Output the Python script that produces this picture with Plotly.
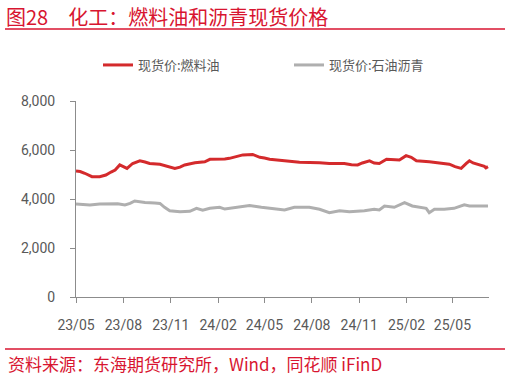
import plotly.graph_objects as go

# ---- data ----
fuel_dates = ["2023-05-01","2023-05-09","2023-05-18","2023-06-01","2023-06-16","2023-06-28","2023-07-08","2023-07-16",
              "2023-07-25","2023-08-02","2023-08-08","2023-08-19","2023-09-02","2023-09-12","2023-09-21","2023-10-11",
              "2023-10-30","2023-11-09","2023-11-19","2023-11-28","2023-12-18","2024-01-06","2024-01-16","2024-01-31",
              "2024-02-14","2024-02-23","2024-03-08","2024-03-20","2024-04-08","2024-04-22","2024-05-01","2024-05-11",
              "2024-06-09","2024-07-08","2024-08-16","2024-09-04","2024-10-03","2024-10-17","2024-10-29","2024-11-07",
              "2024-11-21","2024-11-30","2024-12-10","2024-12-24","2025-01-18","2025-01-31","2025-02-10","2025-02-20",
              "2025-03-17","2025-04-05","2025-04-25","2025-05-06","2025-05-18","2025-05-28","2025-06-03","2025-06-10",
              "2025-06-22","2025-07-02","2025-07-05","2025-07-09"]
fuel_values = [5140,5120,5050,4910,4910,4980,5100,5180,
               5390,5300,5250,5450,5560,5510,5450,5420,
               5320,5250,5300,5390,5480,5520,5620,5620,
               5630,5660,5720,5800,5820,5700,5670,5620,
               5560,5500,5480,5450,5450,5400,5390,5470,
               5560,5470,5450,5620,5590,5770,5700,5560,
               5520,5470,5420,5320,5250,5450,5560,5470,
               5400,5330,5270,5320]

asphalt_dates = ["2023-05-01","2023-05-28","2023-06-16","2023-07-06","2023-07-21","2023-08-04","2023-08-14","2023-08-23",
                 "2023-09-12","2023-10-01","2023-10-11","2023-10-20","2023-10-30","2023-11-19","2023-12-08","2023-12-21",
                 "2024-01-02","2024-01-16","2024-02-04","2024-02-14","2024-03-14","2024-04-02","2024-04-25","2024-05-21",
                 "2024-06-09","2024-06-28","2024-07-27","2024-08-16","2024-09-04","2024-09-24","2024-10-13","2024-11-11",
                 "2024-11-30","2024-12-10","2024-12-20","2025-01-08","2025-01-28","2025-02-12","2025-02-26","2025-03-11",
                 "2025-03-17","2025-03-27","2025-04-15","2025-05-04","2025-05-24","2025-06-03","2025-06-22","2025-07-09"]
asphalt_values = [3800,3760,3800,3820,3810,3760,3820,3920,
                  3860,3840,3820,3660,3520,3480,3500,3620,
                  3540,3620,3660,3590,3660,3730,3660,3580,
                  3550,3660,3660,3580,3440,3520,3480,3520,
                  3580,3550,3715,3660,3850,3715,3660,3620,
                  3440,3580,3580,3620,3760,3715,3715,3715]

tick_dates = ["2023-05-01","2023-08-01","2023-11-01","2024-02-01","2024-05-01",
              "2024-08-01","2024-11-01","2025-02-01","2025-05-01"]
tick_labels = ["23/05","23/08","23/11","24/02","24/05","24/08","24/11","25/02","25/05"]
y_ticks = [0, 2000, 4000, 6000, 8000]
y_labels = ["0", "2,000", "4,000", "6,000", "8,000"]

series_names = ["现货价:燃料油", "现货价:石油沥青"]
title_text = "图28　化工：燃料油和沥青现货价格"
source_text = "资料来源：东海期货研究所，Wind，同花顺 iFinD"

RED = "#D42A2C"
GRAY = "#AFAFAF"
TITLE_RED = "#D81530"
AXIS = "#8C8C8C"
TEXT = "#595959"
NUM_FONT = "Roboto, sans-serif"
CJK_FONT = "Noto Sans CJK SC, sans-serif"

fig = go.Figure()
fig.add_trace(go.Scatter(x=fuel_dates, y=fuel_values, mode="lines", name=series_names[0],
                         line=dict(color=RED, width=3)))
fig.add_trace(go.Scatter(x=asphalt_dates, y=asphalt_values, mode="lines", name=series_names[1],
                         line=dict(color=GRAY, width=3)))

W, H = 511, 377
L, R, T, B = 76, 22, 101, 80
pw, ph = W - L - R, H - T - B

def px(x):
    return (x - L) / pw

def py(y):
    return (H - B - y) / ph

fig.update_layout(
    width=W, height=H,
    margin=dict(l=L, r=R, t=T, b=B),
    paper_bgcolor="white", plot_bgcolor="white",
    showlegend=True,
    legend=dict(orientation="h", x=px(98), y=py(65), xanchor="left", yanchor="middle",
                font=dict(family=CJK_FONT, size=13, color=TEXT),
                entrywidth=146, entrywidthmode="pixels",
                bgcolor="rgba(0,0,0,0)", itemwidth=30),
    xaxis=dict(type="date", range=["2023-05-01", "2025-07-11"],
               tickvals=tick_dates, ticktext=tick_labels,
               showgrid=False, zeroline=False,
               showline=True, linecolor=AXIS, linewidth=1,
               ticks="outside", ticklen=5, tickcolor=AXIS, ticklabelstandoff=10,
               tickfont=dict(family=NUM_FONT, size=14, color=TEXT)),
    yaxis=dict(range=[0, 8000], tickvals=y_ticks, ticktext=y_labels,
               showgrid=False, zeroline=False,
               showline=True, linecolor=AXIS, linewidth=1,
               ticks="outside", ticklen=5, tickcolor=AXIS, ticklabelstandoff=12,
               tickfont=dict(family=NUM_FONT, size=14, color=TEXT)),
)

fig.add_annotation(text=title_text, xref="paper", yref="paper", x=px(4), y=py(16),
                   xanchor="left", yanchor="middle", showarrow=False,
                   font=dict(family=CJK_FONT, size=20, color=TITLE_RED))
fig.add_shape(type="line", xref="paper", yref="paper", x0=px(5), x1=px(505), y0=py(29), y1=py(29),
              line=dict(color=TITLE_RED, width=1.5))
fig.add_shape(type="line", xref="paper", yref="paper", x0=px(5), x1=px(505), y0=py(349), y1=py(349),
              line=dict(color=TITLE_RED, width=1.5))
fig.add_annotation(text=source_text, xref="paper", yref="paper", x=px(6), y=py(363),
                   xanchor="left", yanchor="middle", showarrow=False,
                   font=dict(family=CJK_FONT, size=17, color=TITLE_RED))

fig.write_html("out.html", config={"displayModeBar": False},
               post_script="document.body.style.margin='0';")
